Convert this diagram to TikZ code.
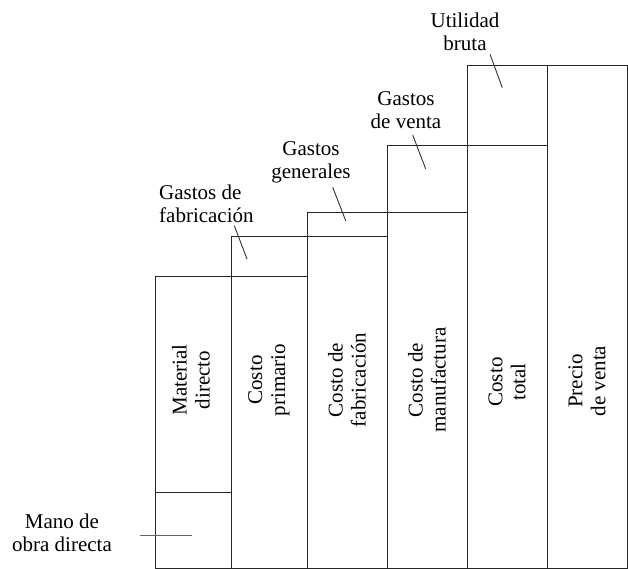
\documentclass[tikz,border=0pt]{standalone}
\usepackage{fontspec}
\setmainfont{Liberation Serif}
\begin{document}
\begin{tikzpicture}[x=1pt,y=-1pt,
  box/.style={draw=black!85,line width=0.9pt},
  ptr/.style={draw=black!80,line width=0.9pt},
  lbl/.style={font=\fontsize{21}{23}\selectfont,align=center,inner sep=0pt},
  vlbl/.style={font=\fontsize{21}{23}\selectfont,align=center,inner sep=0pt,rotate=90}]
\useasboundingbox (0,0) rectangle (628,569);
% columns
\draw[box] (155,568) rectangle (231,276);
\draw[box] (155,492) -- (231,492);
\draw[box] (231,568) rectangle (307,236);
\draw[box] (231,276) -- (307,276);
\draw[box] (307,568) rectangle (387,212);
\draw[box] (307,236) -- (387,236);
\draw[box] (387,568) rectangle (467,145);
\draw[box] (387,212) -- (467,212);
\draw[box] (467,568) rectangle (547,65);
\draw[box] (467,145) -- (547,145);
\draw[box] (547,568) rectangle (627,65);
% column labels
\node[vlbl] (md) at (191,380) {Material\\directo};
\node[vlbl] (cp) at (269,380) {Costo\\primario};
\node[vlbl] (cf) at (347,380) {Costo de\\fabricación};
\node[vlbl] (cm) at (427,380) {Costo de\\manufactura};
\node[vlbl] (ct) at (507,382) {Costo\\total};
\node[vlbl] (pv) at (587,381) {Precio\\de venta};
% outside labels
\node[lbl] (mano) at (62,533) {Mano de\\obra directa};
\node[lbl,align=left,anchor=west] (fab) at (159,204) {Gastos de\\fabricación};
\node[lbl] (gen) at (311,162) {Gastos\\generales};
\node[lbl] (ven) at (406,110) {Gastos\\de venta};
\node[lbl] (uti) at (465,32) {Utilidad\\bruta};
% pointers
\coordinate (mano1) at (140,535); \coordinate (mano2) at (192,535);
\coordinate (fab1) at (234.3,225.7); \coordinate (fab2) at (247,259);
\coordinate (gen1) at (332.7,187.3); \coordinate (gen2) at (345.7,220.7);
\coordinate (ven1) at (412.7,135); \coordinate (ven2) at (425.7,169);
\coordinate (uti1) at (490,54.3); \coordinate (uti2) at (502.3,87.7);
\draw[ptr,draw=black!60] (mano1) -- (mano2);
\draw[ptr] (fab1) -- (fab2);
\draw[ptr] (gen1) -- (gen2);
\draw[ptr] (ven1) -- (ven2);
\draw[ptr] (uti1) -- (uti2);
\end{tikzpicture}
\end{document}
